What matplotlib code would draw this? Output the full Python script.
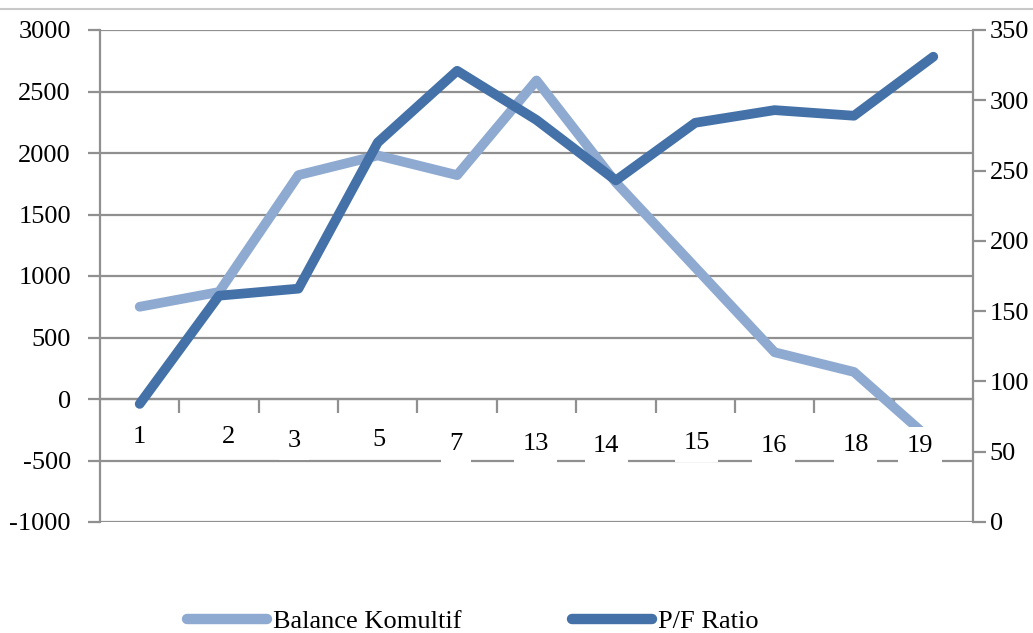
import matplotlib
matplotlib.use("Agg")
import matplotlib.pyplot as plt
from matplotlib.lines import Line2D

categories = ["1", "2", "3", "5", "7", "13", "14", "15", "16", "18", "19"]
balance_komultif = [750, 870, 1820, 1980, 1820, 2590, 1760, 1070, 380, 220, -350]
pf_ratio = [84, 161, 166, 270, 321, 286, 243, 284, 293, 289, 331]

# small hand offsets of the category labels (as in the source picture)
label_dx = [0, 0.12, -0.05, 0.01, -0.01, -0.01, -0.12, 0.02, -0.01, 0.02, -0.17]
label_dy = [20, 20, -10, -3, -36, -36, -52, -28, -52, -44, -52]

light = "#8FAAD1"
dark = "#4471A7"
grid_c = "#909090"

plt.rcParams["font.family"] = ["Liberation Serif", "DejaVu Serif"]
plt.rcParams["font.size"] = 19
plt.rcParams["axes.unicode_minus"] = False

fig = plt.figure(figsize=(10.33, 6.33), dpi=100)
ax = fig.add_axes([100 / 1033, 1 - 522 / 633, 873 / 1033, 492 / 633])
ax2 = ax.twinx()

x = list(range(len(categories)))

ax.plot(x, balance_komultif, color=light, lw=7, solid_capstyle="round",
        solid_joinstyle="round", zorder=3)
ax2.plot(x, pf_ratio, color=dark, lw=7, solid_capstyle="round",
         solid_joinstyle="round", zorder=3)

ax.set_xlim(-0.5, len(categories) - 0.5)
ax.set_ylim(-1000, 3000)
ax.set_yticks(range(-1000, 3001, 500))
ax2.set_ylim(0, 350)
ax2.set_yticks(range(0, 351, 50))

ax.yaxis.grid(True, color=grid_c, lw=1.6)
ax.set_axisbelow(True)

for s in ["top", "right"]:
    ax.spines[s].set_visible(False)
for s in ["top", "bottom", "left"]:
    ax2.spines[s].set_visible(False)
ax.spines["left"].set_color(grid_c)
ax.spines["left"].set_linewidth(1.6)
ax2.spines["right"].set_color(grid_c)
ax2.spines["right"].set_linewidth(1.6)
ax.spines["bottom"].set_position(("data", 0))
ax.spines["bottom"].set_color(grid_c)
ax.spines["bottom"].set_linewidth(1.6)

ax.tick_params(axis="y", direction="out", length=9, width=1.6, color=grid_c,
               pad=12, labelsize=19)
ax2.tick_params(axis="y", direction="out", length=9, width=1.6, color=grid_c,
                pad=3, labelsize=19)

ax.set_xticks([i + 0.5 for i in x[:-1]])
ax.set_xticklabels([])
ax.tick_params(axis="x", direction="out", length=10, width=1.6, color=grid_c)

for i, lab in enumerate(categories):
    ax2.text(i + label_dx[i], -330 + label_dy[i], lab, transform=ax.transData,
             ha="center", va="center", fontsize=19, zorder=5,
             bbox=dict(facecolor="white", edgecolor="none", pad=6))

# thin frame line at the top of the picture
fig.add_artist(Line2D([0, 1], [1 - 9 / 633, 1 - 9 / 633], color="#c8c8c8", lw=1.5))

handles = [Line2D([], [], color=light, lw=7.5, solid_capstyle="round"),
           Line2D([], [], color=dark, lw=7.5, solid_capstyle="round")]
fig.legend(handles, ["Balance Komultif", "P/F Ratio"], loc="center",
           bbox_to_anchor=(0.458, 0.018), ncol=2, frameon=False, fontsize=19,
           handlelength=3.0, handletextpad=0.25, columnspacing=4.2)

fig.savefig("out.png", dpi=100)
